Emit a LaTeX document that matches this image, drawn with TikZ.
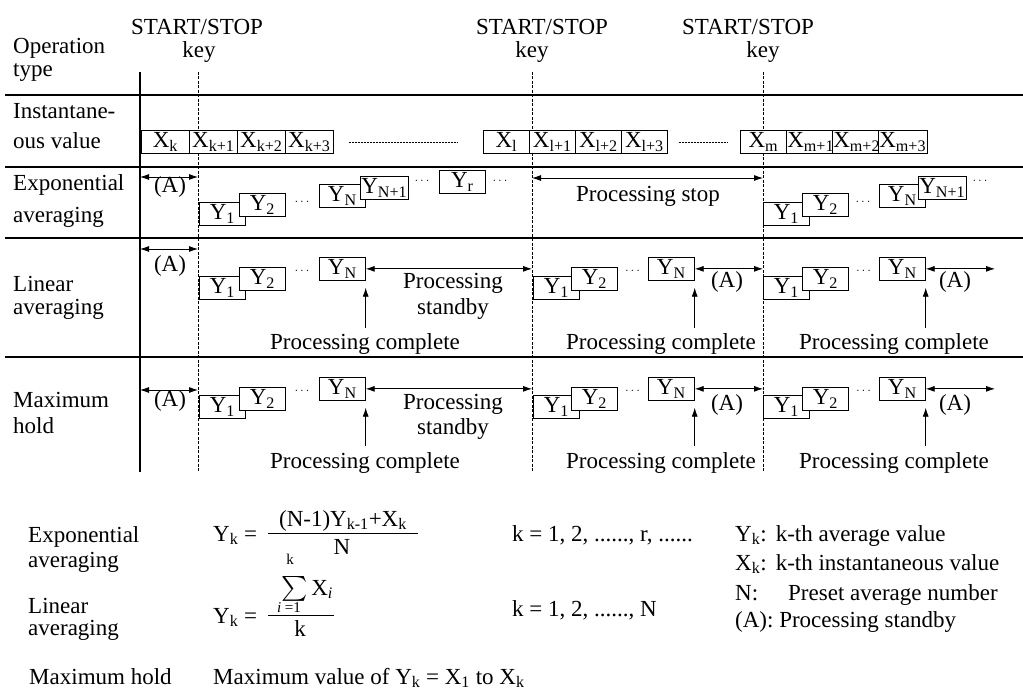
\documentclass[tikz,border=0pt]{standalone}
\usepackage{amsmath}
\usepackage{fontspec}
\setmainfont{Liberation Serif}
\usetikzlibrary{arrows.meta,positioning,calc}

\newcommand{\dts}{{\fontsize{11}{11}\selectfont\textperiodcentered\kern2pt\textperiodcentered\kern2pt\textperiodcentered}}

\tikzset{
  gridline/.style={line width=1.1pt},
  keyline/.style={line width=0.7pt, dash pattern=on 3pt off 1.5pt},
  dotline/.style={line width=0.6pt, dash pattern=on 2pt off 1pt},
  valbox/.style={draw, fill=white, line width=0.7pt, anchor=north west,
    minimum width=46pt, minimum height=23pt, inner sep=1pt},
  dim/.style={{Latex[length=9pt,width=6pt]}-{Latex[length=9pt,width=6pt]}, line width=0.8pt},
  upar/.style={-{Latex[length=9pt,width=6pt]}, line width=0.8pt},
  txt/.style={anchor=base, inner sep=1pt},
  lbl/.style={anchor=base west, inner sep=0pt},
  small/.style={font=\fontsize{15}{15}\selectfont},
}

\begin{document}
\begin{tikzpicture}[x=1pt, y=-1pt, font=\fontsize{23}{26}\selectfont]
\useasboundingbox (0,0) rectangle (1023,692);

\coordinate (op) at (140,72);
\coordinate (k1) at (198,72);
\coordinate (k2) at (532,72);
\coordinate (k3) at (763,72);
\coordinate (bot) at (0,472);
\coordinate (rend) at (995,0);

\draw[gridline] (op) -- (op |- bot);
\foreach \k in {k1,k2,k3}
  \draw[keyline] (\k) -- (\k |- bot);
\foreach \y in {95,167,238,357}
  \draw[gridline] (5,\y) -- (1023,\y);

% heading
\node[txt] (ss1) at (197,35) {START/STOP};
\node[txt] (ss2) at (542,35) {START/STOP};
\node[txt] (ss3) at (748,35) {START/STOP};
\node[txt] (key1) at (199,58) {key};
\node[txt] (key2) at (532,58) {key};
\node[txt] (key3) at (763,58) {key};

\node[lbl] (opr1) at (13,54) {Operation};
\node[lbl] (opr2) at (13,77) {type};
\node[lbl] (ins1) at (13,119) {Instantane-};
\node[lbl] (ins2) at (13,149) {ous value};
\node[lbl] (exa1) at (13,191) {Exponential};
\node[lbl] (exa2) at (13,223) {averaging};
\node[lbl] (lia1) at (13,292) {Linear};
\node[lbl] (lia2) at (13,315) {averaging};
\node[lbl] (mxh1) at (13,408) {Maximum};
\node[lbl] (mxh2) at (13,434) {hold};

% instantaneous values
\foreach \i/\x/\s in {1/141/k,2/189/k+1,3/237/k+2,4/285/k+3}
  \node[valbox, minimum width=48pt] (xk\i) at (\x,130) {X\textsubscript{\s}};
\foreach \i/\x/\s in {1/483/l,2/529/l+1,3/575/l+2,4/621/l+3}
  \node[valbox] (xl\i) at (\x,130) {X\textsubscript{\s}};
\foreach \i/\x/\s in {1/740/m,2/786/m+1,3/832/m+2,4/878/m+3}
  \node[valbox] (xm\i) at (\x,130) {X\textsubscript{\s}};
\draw[dotline] ([xshift=15pt]xk4.east) -- ([xshift=-26pt]xl1.west);
\draw[dotline] ([xshift=11pt]xl4.east) -- ([xshift=-13pt]xm1.west);

% exponential averaging
\draw[dim] (op |- 0,177) -- (k1 |- 0,177);
\node[txt] (aex) at (170,193) {(A)};
\node[valbox] (ye1a) at (199,202) {Y\textsubscript{1}};
\node[valbox] (ye2a) at (239,193) {Y\textsubscript{2}};
\node (dea) at (302,203) {\dts};
\node[valbox] (yeNa) at (319,184) {Y\textsubscript{N}};
\node[valbox] (yeMa) at (360,176) {Y\textsubscript{N+1}};
\node (dea2) at (422,182) {\dts};
\node[valbox] (yer) at (439,170) {Y\textsubscript{r}};
\node (dea3) at (500,182) {\dts};
\draw[dim] (k2 |- 0,178) -- (k3 |- 0,178);
\node[txt] (pstop) at (648,202) {Processing stop};
\node[valbox] (ye1c) at (763,202) {Y\textsubscript{1}};
\node[valbox] (ye2c) at (802,193) {Y\textsubscript{2}};
\node (dec) at (863,203) {\dts};
\node[valbox] (yeNc) at (879,184) {Y\textsubscript{N}};
\node[valbox] (yeMc) at (918,176) {Y\textsubscript{N+1}};
\node (dec2) at (980,182) {\dts};

% linear averaging and maximum hold
\foreach \r/\ya/\yb/\yc/\yd in {l/276/267/257/272, m/395/387/377/392}
  \foreach \b/\x/\t/\n in {a/199/239/319, b/533/571/648, c/763/802/879} {
    \node[valbox] (y1\r\b) at (\x,\ya) {Y\textsubscript{1}};
    \node[valbox] (y2\r\b) at (\t,\yb) {Y\textsubscript{2}};
    \node (d\r\b) at ({(\t+46+\n)/2},\yd) {\dts};
    \node[valbox] (yN\r\b) at (\n,\yc) {Y\textsubscript{N}};
  }

\draw[dim] (op |- 0,249) -- (k1 |- 0,249);
\node[txt] (ala) at (170,272) {(A)};
\draw[dim] (yNla.east) -- (yNla.east -| k2);
\node[txt] (psl1) at (453,289) {Processing};
\node[txt] (psl2) at (453,315) {standby};
\draw[dim] (yNlb.east) -- (yNlb.east -| k3);
\node[txt] (alb) at (727,288) {(A)};
\draw[dim] (yNlc.east) -- (yNlc.east -| rend);
\node[txt] (alc) at (955,288) {(A)};

\draw[dim] (op |- 0,390) -- (k1 |- 0,390);
\node[txt] (ama) at (170,407) {(A)};
\draw[dim] (yNma.east) -- (yNma.east -| k2);
\node[txt] (psm1) at (453,410) {Processing};
\node[txt] (psm2) at (453,435) {standby};
\draw[dim] (yNmb.east) -- (yNmb.east -| k3);
\node[txt] (amb) at (727,411) {(A)};
\draw[dim] (yNmc.east) -- (yNmc.east -| rend);
\node[txt] (amc) at (955,411) {(A)};

\foreach \r/\y in {l/350, m/468}
  \foreach \b/\x in {a/365, b/661, c/894} {
    \node[txt] (pc\r\b) at (\x,\y) {Processing complete};
    \draw[upar] ([yshift=5pt]pc\r\b.north -| yN\r\b.south east)
      -- ([yshift=-7pt]yN\r\b.south east);
  }

% formulas
\node[lbl] (fex1) at (28,542) {Exponential};
\node[lbl] (fex2) at (28,567) {averaging};
\node[lbl] (fli1) at (28,613) {Linear};
\node[lbl] (fli2) at (28,635) {averaging};
\node[lbl] (fmx) at (29,684) {Maximum hold};

\node[lbl] (yex) at (213,541) {Y\textsubscript{k} =};
\node[txt] (numex) at (343,526) {(N-1)Y\textsubscript{k-1}+X\textsubscript{k}};
\draw[line width=0.7pt] (268,533) -- (418,533);
\node[txt] (denex) at (342,554) {N};

\node[lbl] (yli) at (213,623) {Y\textsubscript{k} =};
\node[txt, small] (supk) at (290,564) {k};
\node[lbl] (sumx) at (281,595) {$\textstyle\sum$\,X\textsubscript{\textit{i}}};
\node[txt, small] (subi) at (289,612) {\textit{i} =1};
\draw[line width=0.7pt] (268,615) -- (334,615);
\node[txt] (denli) at (300,636) {k};

\node[lbl] (kex) at (512,541) {k = 1, 2, ......, r, ......};
\node[lbl] (kli) at (512,616) {k = 1, 2, ......, N};

\node[lbl] (dy) at (735,541) {Y\textsubscript{k}:\hspace{9pt}k-th average value};
\node[lbl] (dx) at (735,570) {X\textsubscript{k}:\hspace{9pt}k-th instantaneous value};
\node[lbl] (dn) at (735,600) {N:\hspace{30pt}Preset average number};
\node[lbl] (da) at (735,627) {(A): Processing standby};

\node[lbl] (fmv) at (213,684) {Maximum value of Y\textsubscript{k} = X\textsubscript{1} to X\textsubscript{k}};
\end{tikzpicture}
\end{document}
